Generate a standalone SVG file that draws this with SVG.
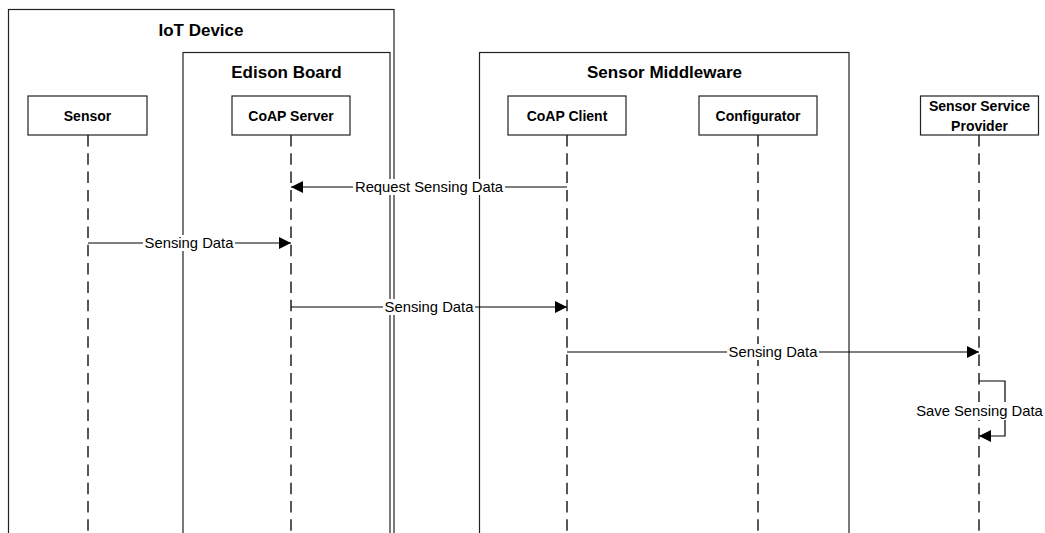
<svg xmlns="http://www.w3.org/2000/svg" width="1045" height="533" viewBox="0 0 1045 533">
  <defs>
    <marker id="arrow" markerUnits="userSpaceOnUse" markerWidth="12" markerHeight="12" refX="12" refY="6" orient="auto">
      <path d="M0,0 L12,6 L0,12 z" fill="#000"/>
    </marker>
    <style>
      .frame { fill: none; stroke: #222; stroke-width: 1.2; }
      .box { fill: #fff; stroke: #222; stroke-width: 1.2; }
      .title { font-family: "Liberation Sans", Arial, sans-serif; font-size: 17px; font-weight: bold; fill: #000; text-anchor: middle; }
      .name { font-family: "Liberation Sans", Arial, sans-serif; font-size: 14px; font-weight: bold; fill: #000; text-anchor: middle; }
      .life { stroke: #111; stroke-width: 1.4; stroke-dasharray: 11.5 6.8; fill: none; }
      .msg { stroke: #000; stroke-width: 1.2; fill: none; marker-end: url(#arrow); }
      .lbl { font-family: "Liberation Sans", Arial, sans-serif; font-size: 14.8px; fill: #000; text-anchor: middle; }
      .lblbg { fill: #fff; }
    </style>
  </defs>
  <rect width="1045" height="533" fill="#fff"/>

  <!-- container frames -->
  <g id="iot-device">
    <rect class="frame" x="8.5" y="9.5" width="385.5" height="540"/>
    <text class="title" x="201" y="36">IoT Device</text>
  </g>
  <g id="edison-board">
    <rect class="frame" x="183" y="52.5" width="207" height="500"/>
    <text class="title" x="286.5" y="78">Edison Board</text>
  </g>
  <g id="sensor-middleware">
    <rect class="frame" x="479.5" y="52.5" width="369.5" height="500"/>
    <text class="title" x="664.5" y="78">Sensor Middleware</text>
  </g>

  <!-- participants with lifelines -->
  <g id="sensor">
    <line class="life" x1="88" y1="135" x2="88" y2="533"/>
    <rect class="box" x="28" y="96" width="119" height="39"/>
    <text class="name" x="87.5" y="121">Sensor</text>
  </g>
  <g id="coap-server">
    <line class="life" x1="291" y1="135" x2="291" y2="533"/>
    <rect class="box" x="232" y="96" width="118" height="39"/>
    <text class="name" x="291" y="121">CoAP Server</text>
  </g>
  <g id="coap-client">
    <line class="life" x1="567" y1="135" x2="567" y2="533"/>
    <rect class="box" x="508" y="96" width="118" height="39"/>
    <text class="name" x="567" y="121">CoAP Client</text>
  </g>
  <g id="configurator">
    <line class="life" x1="758" y1="135" x2="758" y2="533"/>
    <rect class="box" x="699" y="96" width="118" height="39"/>
    <text class="name" x="758" y="121">Configurator</text>
  </g>
  <g id="sensor-service-provider">
    <line class="life" x1="979" y1="135" x2="979" y2="533"/>
    <rect class="box" x="920.5" y="96" width="118" height="39"/>
    <text class="name" x="979.5" y="111">Sensor Service</text>
    <text class="name" x="979.5" y="131">Provider</text>
  </g>

  <!-- messages -->
  <g id="connectors">
    <line class="msg" x1="567" y1="187" x2="291" y2="187"/>
    <rect class="lblbg" x="353" y="179" width="152" height="16"/>
    <text class="lbl" x="429" y="192.3">Request Sensing Data</text>

    <line class="msg" x1="88" y1="243" x2="291" y2="243"/>
    <rect class="lblbg" x="143" y="235" width="92" height="16"/>
    <text class="lbl" x="189" y="248.3">Sensing Data</text>

    <line class="msg" x1="291" y1="307" x2="567" y2="307"/>
    <rect class="lblbg" x="383" y="299" width="92" height="16"/>
    <text class="lbl" x="429" y="312.3">Sensing Data</text>

    <line class="msg" x1="567" y1="352" x2="979" y2="352"/>
    <rect class="lblbg" x="727" y="344" width="92" height="16"/>
    <text class="lbl" x="773" y="357.3">Sensing Data</text>

    <path class="msg" d="M979,381 H1005 V436 H979"/>
    <rect class="lblbg" x="915" y="402" width="129" height="18"/>
    <text class="lbl" x="979.5" y="416">Save Sensing Data</text>
  </g>
</svg>
